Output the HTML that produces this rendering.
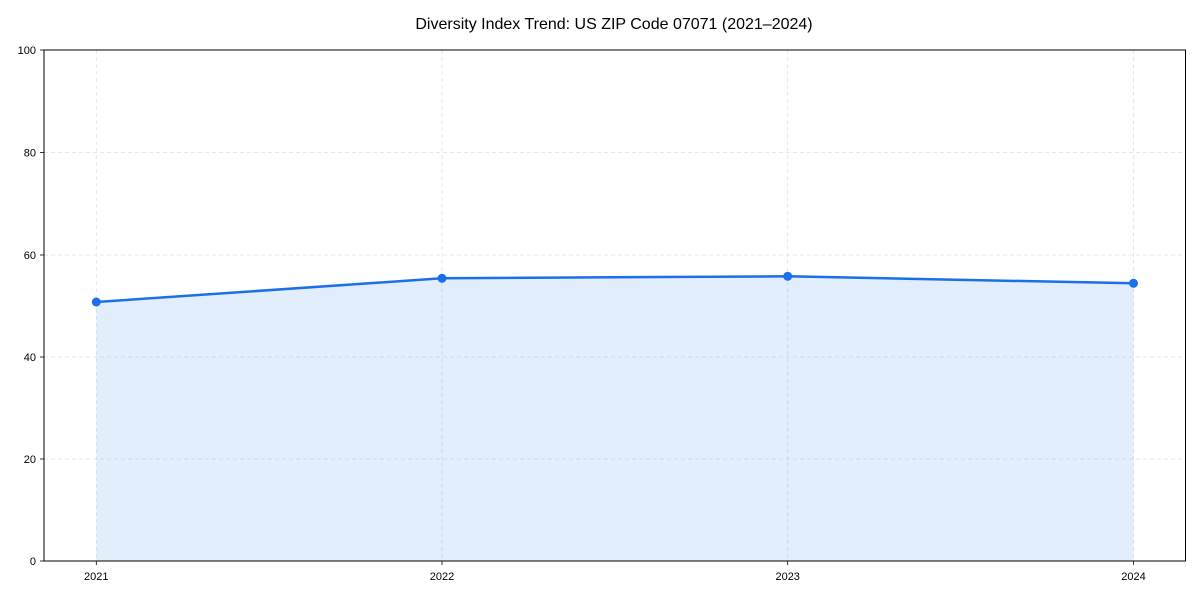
<!DOCTYPE html>
<html><head><meta charset="utf-8"><style>
body{margin:0;background:#fff;}
svg{display:block;font-family:"Liberation Sans",Arial,sans-serif;}
</style></head><body>
<svg width="1200" height="600" viewBox="0 0 1200 600">
<rect width="1200" height="600" fill="#fff"/>
<text x="614" y="29" font-size="16" text-anchor="middle" fill="#000">Diversity Index Trend: US ZIP Code 07071 (2021–2024)</text>
<g stroke="#e0e0e0" stroke-width="0.8" stroke-dasharray="4,3">
<line x1="96.3" y1="50" x2="96.3" y2="561"/>
<line x1="442" y1="50" x2="442" y2="561"/>
<line x1="787.7" y1="50" x2="787.7" y2="561"/>
<line x1="1133.5" y1="50" x2="1133.5" y2="561"/>
<line x1="44" y1="459" x2="1185.5" y2="459"/>
<line x1="44" y1="357" x2="1185.5" y2="357"/>
<line x1="44" y1="255" x2="1185.5" y2="255"/>
<line x1="44" y1="152.5" x2="1185.5" y2="152.5"/>
</g>
<polygon points="96.3,302 442,278.3 787.7,276.3 1133.5,283.3 1133.5,561 96.3,561" fill="#1a73e8" fill-opacity="0.12"/>
<polyline points="96.3,302 442,278.3 787.7,276.3 1133.5,283.3" fill="none" stroke="#1a6fea" stroke-width="2.5"/>
<g fill="#1a6fea">
<circle cx="96.3" cy="302" r="4.5"/><circle cx="442" cy="278.3" r="4.5"/>
<circle cx="787.7" cy="276.3" r="4.5"/><circle cx="1133.5" cy="283.3" r="4.5"/>
</g>
<rect x="44" y="50" width="1141.5" height="511" fill="none" stroke="#000" stroke-width="1"/>
<g stroke="#000" stroke-width="0.8">
<line x1="40" y1="561" x2="44" y2="561"/><line x1="40" y1="459" x2="44" y2="459"/>
<line x1="40" y1="357" x2="44" y2="357"/><line x1="40" y1="255" x2="44" y2="255"/>
<line x1="40" y1="152.5" x2="44" y2="152.5"/><line x1="40" y1="50" x2="44" y2="50"/>
<line x1="96.3" y1="561" x2="96.3" y2="565"/><line x1="442" y1="561" x2="442" y2="565"/>
<line x1="787.7" y1="561" x2="787.7" y2="565"/><line x1="1133.5" y1="561" x2="1133.5" y2="565"/>
</g>
<g font-size="11" fill="#000" text-anchor="end">
<text x="36" y="565">0</text><text x="36" y="463">20</text><text x="36" y="361">40</text>
<text x="36" y="259">60</text><text x="36" y="156.5">80</text><text x="36" y="54">100</text>
</g>
<g font-size="11" fill="#000" text-anchor="middle">
<text x="96.3" y="580">2021</text><text x="442" y="580">2022</text>
<text x="787.7" y="580">2023</text><text x="1133.5" y="580">2024</text>
</g>
</svg>
</body></html>
